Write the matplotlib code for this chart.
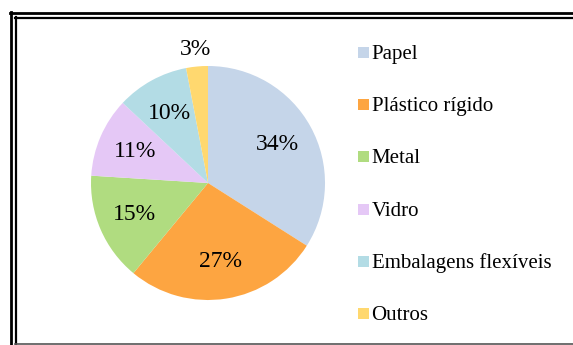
import matplotlib
matplotlib.use("Agg")
import matplotlib.pyplot as plt
from matplotlib.patches import Rectangle
from matplotlib.lines import Line2D
import numpy as np

plt.rcParams["font.family"] = ["Liberation Serif", "DejaVu Serif"]

categories = ["Papel", "Plástico rígido", "Metal", "Vidro", "Embalagens flexíveis", "Outros"]
shares = [34, 27, 15, 11, 10, 3]
colors = ["#C5D5E9", "#FDA541", "#B0DC80", "#E5C8F6", "#B3DCE5", "#FFD86F"]

W, H = 573, 345
fig = plt.figure(figsize=(W / 100, H / 100), dpi=100)
FONT = ["Liberation Serif", "DejaVu Serif"]

# pie axes: centre (208, 183) px, radius 117 px
cx, cy, r = 208, 183, 117
ax = fig.add_axes([(cx - r) / W, (H - cy - r) / H, 2 * r / W, 2 * r / H])
wedges, texts = ax.pie(shares, colors=colors, startangle=90, counterclock=False,
                       radius=1.0, wedgeprops=dict(linewidth=0))
ax.set_xlim(-1, 1)
ax.set_ylim(-1, 1)
ax.set_aspect("auto")
ax.axis("off")

total = sum(shares)
start = 90.0
for val in shares:
    span = 360.0 * val / total
    mid = np.deg2rad(start - span / 2)
    dist = 0.68 if val > 5 else 1.15
    ax.text(dist * np.cos(mid), dist * np.sin(mid), f"{val}%", ha="center", va="center",
            fontsize=17, color="black", family=FONT, clip_on=False)
    start -= span

# legend: baselines every 52.2 px starting at y = 59 px
base0, dy = 59, 52.2
for i, (lab, col) in enumerate(zip(categories, colors)):
    yb = base0 + i * dy
    fig.patches.append(Rectangle((358 / W, (H - yb + 1) / H), 11 / W, 11 / H,
                                 transform=fig.transFigure, facecolor=col, edgecolor="none"))
    fig.text(371.5 / W, (H - yb) / H, lab, ha="left", va="baseline", fontsize=15,
             color="black", family=FONT)

# double frame
def hline(x0, x1, y, lw, c):
    fig.lines.append(Line2D([x0 / W, x1 / W], [(H - y) / H, (H - y) / H],
                            transform=fig.transFigure, color=c, linewidth=lw))

def vline(x, y0_, y1_, lw, c):
    fig.lines.append(Line2D([x / W, x / W], [(H - y0_) / H, (H - y1_) / H],
                            transform=fig.transFigure, color=c, linewidth=lw))

hline(10, 600, 13, 2.0, "black")
vline(11, 12, 360, 2.0, "black")
hline(15, 600, 17.5, 1.6, "black")
vline(15.5, 17, 344, 1.6, "black")
hline(15, 600, 344, 1.2, "#555555")

fig.savefig("out.png", dpi=100)
